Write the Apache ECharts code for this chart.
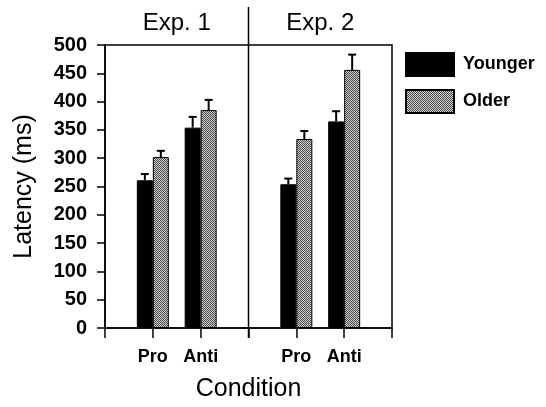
<!DOCTYPE html>
<html>
<head>
<meta charset="utf-8">
<script src="https://cdn.jsdelivr.net/npm/echarts@6/dist/echarts.min.js"></script>
<style>
    html, body { margin: 0; padding: 0; background: #fff; }
    #chart { width: 546px; height: 407px; }
</style>
</head>
<body>
<div id="chart"></div>
<script>
// condition slots on the x axis (blank slots are the panel edges)
var conditions = ['', 'Pro', 'Anti', '', 'Pro', 'Anti', ''];
var experiments = ['Exp. 1', 'Exp. 2'];
var yTicks = [0, 500, 50]; // min, max, step

// mean latency (ms), '-' for blank slots
var younger = ['-', 261, 354, '-', 254, 365, '-'];
var older = ['-', 302, 385, '-', 334, 456, '-'];
// standard error (upper bar only)
var youngerErr = ['-', 11, 19, '-', 10, 18, '-'];
var olderErr = ['-', 11, 18, '-', 14, 27, '-'];

var BAR_W = 16;
var FONT = 'Liberation Sans, Arial, sans-serif';

// dithered grey fill like the printed figure
function makePattern() {
    var c = document.createElement('canvas');
    c.width = 2;
    c.height = 2;
    var ctx = c.getContext('2d');
    ctx.fillStyle = '#d0d0d0';
    ctx.fillRect(0, 0, 2, 2);
    ctx.fillStyle = '#4a4a4a';
    ctx.fillRect(0, 0, 1, 1);
    ctx.fillRect(1, 1, 1, 1);
    return c;
}
var greyFill = { image: makePattern(), repeat: 'repeat' };

function errData(means, errs, side) {
    var out = [];
    means.forEach(function (m, i) {
        if (m !== '-') out.push([i, m, m + errs[i], side]);
    });
    return out;
}

function renderErr(params, api) {
    var base = api.coord([api.value(0), api.value(1)]);
    var top = api.coord([api.value(0), api.value(2)]);
    var x = base[0] + api.value(3) * BAR_W / 2;
    var style = { stroke: '#000', lineWidth: 2 };
    return {
        type: 'group',
        children: [
            { type: 'line', shape: { x1: x, y1: base[1], x2: x, y2: top[1] }, style: style },
            { type: 'line', shape: { x1: x - 4, y1: top[1], x2: x + 4, y2: top[1] }, style: style }
        ]
    };
}

var myChart = echarts.init(document.getElementById('chart'));

option = {
    animation: false,
    grid: {
        left: 105,
        right: 154,
        top: 45,
        bottom: 72,
        show: true,
        borderColor: '#000',
        borderWidth: 1.5
    },
    legend: {
        orient: 'vertical',
        left: 405,
        top: 52,
        padding: 0,
        icon: 'rect',
        itemWidth: 48,
        itemHeight: 23,
        itemGap: 12,
        data: ['Younger', 'Older'],
        textStyle: {
            fontFamily: FONT,
            fontWeight: 'bold',
            fontSize: 18,
            color: '#000',
            padding: [0, 0, 0, 4]
        }
    },
    xAxis: [{
        type: 'category',
        data: conditions,
        boundaryGap: false,
        position: 'bottom',
        name: 'Condition',
        nameLocation: 'middle',
        nameGap: 49,
        nameTextStyle: {
            fontFamily: FONT,
            fontSize: 25,
            color: '#000'
        },
        axisLine: { lineStyle: { color: '#000', width: 1.5 } },
        axisTick: { length: 10, interval: 0, lineStyle: { color: '#000', width: 1.5 } },
        axisLabel: {
            interval: 0,
            margin: 20,
            fontFamily: FONT,
            fontWeight: 'bold',
            fontSize: 18,
            color: '#000'
        },
        splitLine: { show: false }
    }, {
        type: 'category',
        data: experiments,
        position: 'top',
        axisLine: { show: false },
        axisTick: { show: false },
        axisLabel: {
            margin: 10,
            fontFamily: FONT,
            fontSize: 24,
            color: '#000'
        }
    }],
    yAxis: {
        type: 'value',
        min: yTicks[0],
        max: yTicks[1],
        interval: yTicks[2],
        name: 'Latency (ms)',
        nameLocation: 'middle',
        nameGap: 68,
        nameTextStyle: {
            fontFamily: FONT,
            fontSize: 25,
            color: '#000'
        },
        axisLine: { show: true, lineStyle: { color: '#000', width: 1.5 } },
        axisTick: { show: true, length: 8, lineStyle: { color: '#000', width: 1.5 } },
        axisLabel: {
            margin: 18,
            fontFamily: FONT,
            fontWeight: 'bold',
            fontSize: 20,
            color: '#000'
        },
        splitLine: { show: false }
    },
    series: [
        {
            name: 'Younger',
            type: 'bar',
            data: younger,
            barWidth: BAR_W,
            barGap: '0%',
            itemStyle: { color: '#000', borderColor: '#000', borderWidth: 1 }
        },
        {
            name: 'Older',
            type: 'bar',
            data: older,
            barWidth: BAR_W,
            barGap: '0%',
            itemStyle: { color: greyFill, borderColor: '#000', borderWidth: 1 }
        },
        {
            type: 'custom',
            renderItem: renderErr,
            data: errData(younger, youngerErr, -1).concat(errData(older, olderErr, 1)),
            z: 5
        }
    ]
};

myChart.setOption(option);

// panel divider between the two experiments, running past the frame
var divX = myChart.convertToPixel({ xAxisIndex: 0 }, 3);
var baseY = myChart.convertToPixel({ yAxisIndex: 0 }, 0);
myChart.setOption({
    graphic: [{
        type: 'line',
        shape: { x1: divX, y1: 7, x2: divX, y2: baseY + 10 },
        style: { stroke: '#000', lineWidth: 1.5 },
        z: 10
    }]
});
</script>
</body>
</html>
